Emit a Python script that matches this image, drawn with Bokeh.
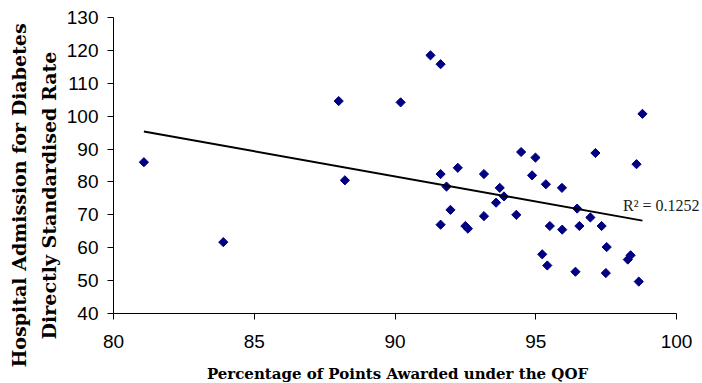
import math
import numpy as np
from bokeh.plotting import figure
from bokeh.models import FixedTicker, Label, Range1d, ColumnDataSource
from bokeh.embed import file_html
from bokeh.resources import INLINE

qof_pct = [81.08, 83.90, 88.00, 88.22, 90.20,
           91.26, 91.62, 98.79, 94.48, 94.99, 97.12, 98.58, 92.23, 91.62, 93.16,
           94.87, 95.36, 95.93, 91.83, 93.72, 93.87, 93.59, 91.97, 94.31, 96.47,
           96.94, 93.16, 91.62, 92.50, 92.59, 95.50, 95.94, 96.55, 97.34, 97.52,
           95.23, 95.41, 96.41, 97.49, 98.37, 98.27, 98.66]
admission_rate = [86.0, 61.7, 104.6, 80.5, 104.2,
                  118.5, 115.8, 100.7, 89.1, 87.4, 88.8, 85.4, 84.3, 82.4, 82.4,
                  82.0, 79.3, 78.2, 78.6, 78.2, 75.6, 73.7, 71.5, 70.0, 71.9,
                  69.2, 69.6, 67.0, 66.6, 65.8, 66.6, 65.5, 66.6, 66.6, 60.2,
                  58.0, 54.6, 52.7, 52.3, 57.7, 56.4, 49.7]
x_ticks = [80, 85, 90, 95, 100]
y_ticks = [40, 50, 60, 70, 80, 90, 100, 110, 120, 130]
x_title = "Percentage of Points Awarded under the QOF"
y_title_lines = ["Hospital Admission for Diabetes", "Directly Standardised Rate"]
r2_text = "R\u00b2 = 0.1252"

# layout: the frame covers the whole canvas; axes are pinned at x=80 / y=40
W, H = 702, 383
X0, X1, PX0, PX1 = 80, 100, 113, 676      # data -> pixel of plot area
Y0, Y1, PY0, PY1 = 40, 130, 313, 17
sx = (PX1 - PX0) / (X1 - X0)
sy = (PY0 - PY1) / (Y1 - Y0)
x_start = X0 - PX0 / sx
x_end = X1 + (W - PX1) / sx
y_end = Y1 + PY1 / sy
y_start = Y0 - (H - PY0) / sy


def dx(px):
    return X0 + (px - PX0) / sx


def dy(py):
    return Y0 + (PY0 - py) / sy


x = np.array(qof_pct)
y = np.array(admission_rate)
slope, intercept = np.polyfit(x, y, 1)
trend_x = [x.min(), x.max()]
trend_y = [slope * v + intercept for v in trend_x]

p = figure(width=W, height=H, output_backend="svg", toolbar_location=None,
           x_range=Range1d(x_start, x_end), y_range=Range1d(y_start, y_end),
           min_border=0, min_border_left=0, min_border_right=0,
           min_border_top=0, min_border_bottom=0)
p.outline_line_color = None
p.xgrid.visible = False
p.ygrid.visible = False
p.background_fill_color = "white"
p.border_fill_color = "white"

src = ColumnDataSource(dict(x=qof_pct, y=admission_rate))
p.scatter("x", "y", source=src, marker="square", angle=math.pi / 4, size=6.5,
          fill_color="#000080", line_color="#000080")
p.line(trend_x, trend_y, line_color="black", line_width=2)

for ax in (p.xaxis[0], p.yaxis[0]):
    ax.axis_line_color = "black"
    ax.major_tick_line_color = "black"
    ax.major_tick_out = 6
    ax.major_tick_in = 0
    ax.minor_tick_line_color = None
    ax.major_label_text_font = "Liberation Sans"
    ax.major_label_text_font_size = "19px"
    ax.major_label_text_color = "black"

p.xaxis.ticker = FixedTicker(ticks=x_ticks)
p.yaxis.ticker = FixedTicker(ticks=y_ticks)
p.xaxis.fixed_location = Y0
p.yaxis.fixed_location = X0
p.xaxis.bounds = (X0, X1)
p.yaxis.bounds = (Y0, Y1)
p.xaxis.major_label_standoff = 15
p.yaxis.major_label_standoff = 9

title_font = "DejaVu Serif"
p.add_layout(Label(x=dx(397), y=dy(373), text=x_title,
                   text_font=title_font, text_font_style="bold",
                   text_font_size="15px", text_color="black",
                   text_align="center", text_baseline="middle"))
for i, line in enumerate(y_title_lines):
    p.add_layout(Label(x=dx(18 + 30 * i), y=dy(195), text=line, angle=math.pi / 2,
                       text_font=title_font, text_font_style="bold",
                       text_font_size="19px", text_color="black",
                       text_align="center", text_baseline="middle"))

p.add_layout(Label(x=dx(622.5), y=dy(205), text=r2_text, text_font="Liberation Serif",
                   text_font_size="16px", text_color="#1a1a1a",
                   text_baseline="middle", text_align="left"))

open("out.html", "w").write(file_html(p, INLINE))
